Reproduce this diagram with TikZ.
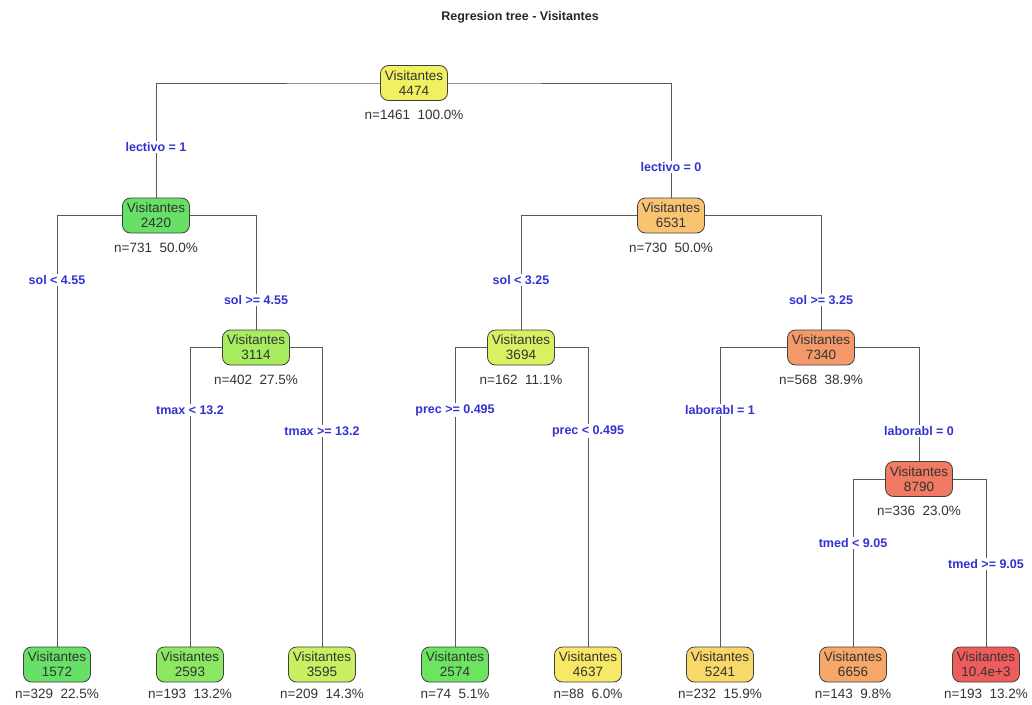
\documentclass[tikz,border=0pt]{standalone}
\usepackage{fontspec}
\setmainfont{Liberation Sans}
\usetikzlibrary{backgrounds}
\definecolor{cRoot}{HTML}{F0F060}
\definecolor{cA}{HTML}{66E066}
\definecolor{cB}{HTML}{F8C472}
\definecolor{cC}{HTML}{A8EC60}
\definecolor{cD}{HTML}{D8F062}
\definecolor{cE}{HTML}{F49A6A}
\definecolor{cF}{HTML}{F07A64}
\definecolor{cL1}{HTML}{66E066}
\definecolor{cL2}{HTML}{8CE862}
\definecolor{cL3}{HTML}{C8F062}
\definecolor{cL4}{HTML}{6CE462}
\definecolor{cL5}{HTML}{F8E868}
\definecolor{cL6}{HTML}{F8D868}
\definecolor{cL7}{HTML}{F6A86A}
\definecolor{cL8}{HTML}{EE5C5C}
\definecolor{lblue}{HTML}{3232D2}
\definecolor{tgray}{HTML}{333333}
\tikzset{
  tnode/.style={draw=black!75, line width=0.8pt, rounded corners=8pt,
    minimum width=67pt, minimum height=35pt, inner sep=1pt, align=center,
    text=tgray, font=\fontsize{13.5}{15}\selectfont},
  nlab/.style={text=tgray, font=\fontsize{13.5}{14}\selectfont, inner sep=0pt},
  split/.style={text=lblue, font=\fontsize{12.5}{13}\selectfont\bfseries, fill=white, inner sep=1.5pt},
  edge/.style={draw=black!65, line width=0.9pt}
}
\newcommand{\nl}[2]{n=#1\hspace{0.55em}#2\%}
\begin{document}
\begin{tikzpicture}[x=1pt,y=-1pt]
\useasboundingbox (0,0) rectangle (1032,704);
\node[font=\fontsize{12.5}{13}\selectfont\bfseries, text=black!85] (title) at (520,17) {Regresion tree - Visitantes};
% nodes
\node[tnode, fill=cRoot] (n1) at (414,83) {Visitantes\\4474};
\node[nlab] (l1) at (414,115) {\nl{1461}{100.0}};
\node[tnode, fill=cA] (n2) at (156,215.5) {Visitantes\\2420};
\node[nlab] (l2) at (156,248) {\nl{731}{50.0}};
\node[tnode, fill=cB] (n3) at (671,215.5) {Visitantes\\6531};
\node[nlab] (l3) at (671,248) {\nl{730}{50.0}};
\node[tnode, fill=cC] (n5) at (256,347.5) {Visitantes\\3114};
\node[nlab] (l5) at (256,380) {\nl{402}{27.5}};
\node[tnode, fill=cD] (n6) at (521,347.5) {Visitantes\\3694};
\node[nlab] (l6) at (521,380) {\nl{162}{11.1}};
\node[tnode, fill=cE] (n7) at (821,347.5) {Visitantes\\7340};
\node[nlab] (l7) at (821,380) {\nl{568}{38.9}};
\node[tnode, fill=cF] (n15) at (919,479) {Visitantes\\8790};
\node[nlab] (l15) at (919,511) {\nl{336}{23.0}};
% leaves
\node[tnode, fill=cL1] (f1) at (57,664.5) {Visitantes\\1572};
\node[nlab] (g1) at (57,694) {\nl{329}{22.5}};
\node[tnode, fill=cL2] (f2) at (190,664.5) {Visitantes\\2593};
\node[nlab] (g2) at (190,694) {\nl{193}{13.2}};
\node[tnode, fill=cL3] (f3) at (322,664.5) {Visitantes\\3595};
\node[nlab] (g3) at (322,694) {\nl{209}{14.3}};
\node[tnode, fill=cL4] (f4) at (455,664.5) {Visitantes\\2574};
\node[nlab] (g4) at (455,694) {\nl{74}{5.1}};
\node[tnode, fill=cL5] (f5) at (588,664.5) {Visitantes\\4637};
\node[nlab] (g5) at (588,694) {\nl{88}{6.0}};
\node[tnode, fill=cL6] (f6) at (720,664.5) {Visitantes\\5241};
\node[nlab] (g6) at (720,694) {\nl{232}{15.9}};
\node[tnode, fill=cL7] (f7) at (853,664.5) {Visitantes\\6656};
\node[nlab] (g7) at (853,694) {\nl{143}{9.8}};
\node[tnode, fill=cL8] (f8) at (986,664.5) {Visitantes\\10.4e+3};
\node[nlab] (g8) at (986,694) {\nl{193}{13.2}};
% split labels
\node[split] (s1) at (156,147) {lectivo = 1};
\node[split] (s2) at (671,167) {lectivo = 0};
\node[split] (s3) at (57,280) {sol < 4.55};
\node[split] (s4) at (256,300) {sol >= 4.55};
\node[split] (s5) at (521,280) {sol < 3.25};
\node[split] (s6) at (821,300) {sol >= 3.25};
\node[split] (s7) at (190,410) {tmax < 13.2};
\node[split] (s8) at (322,431) {tmax >= 13.2};
\node[split] (s9) at (455,410) {prec >= 0.495};
\node[split] (s10) at (588,431) {prec < 0.495};
\node[split] (s11) at (720,410) {laborabl = 1};
\node[split] (s12) at (919,431) {laborabl = 0};
\node[split] (s13) at (853,543) {tmed < 9.05};
\node[split] (s14) at (986,564) {tmed >= 9.05};
% edges
\begin{pgfonlayer}{background}
\fill[white] (0,0) rectangle (1032,704);
\draw[edge] (n2.north) |- (n1.center) -| (n3.north);
\draw[edge] (f1.north) |- (n2.center) -| (n5.north);
\draw[edge] (n6.north) |- (n3.center) -| (n7.north);
\draw[edge] (f2.north) |- (n5.center) -| (f3.north);
\draw[edge] (f4.north) |- (n6.center) -| (f5.north);
\draw[edge] (f6.north) |- (n7.center) -| (n15.north);
\draw[edge] (f7.north) |- (n15.center) -| (f8.north);
\end{pgfonlayer}
\end{tikzpicture}
\end{document}
